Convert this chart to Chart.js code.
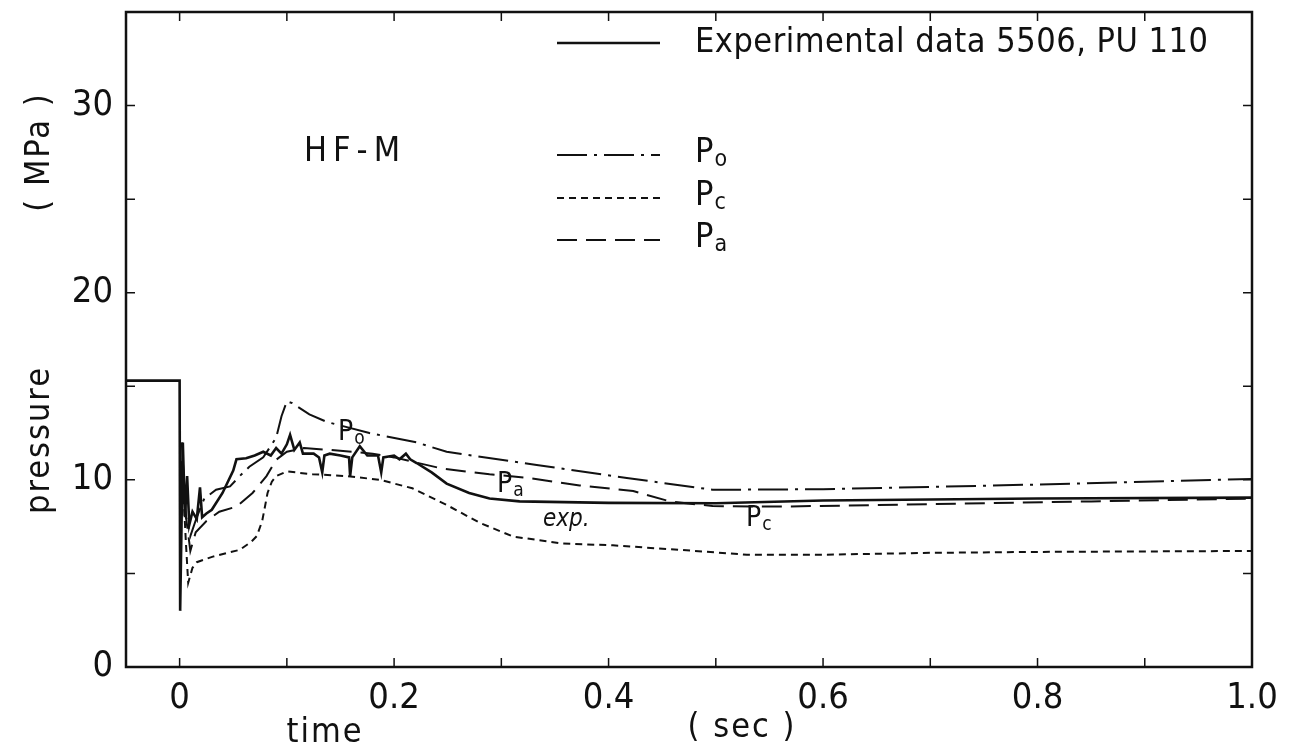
<!DOCTYPE html>
<html>
<head>
<meta charset="utf-8">
<script src="https://cdn.jsdelivr.net/npm/chart.js@4.4.0/dist/chart.umd.min.js"></script>
<style>
  html, body { margin: 0; padding: 0; background: #fff; }
  #wrap { width: 1297px; height: 751px; }
</style>
</head>
<body>
<div id="wrap"><canvas id="chart" width="1297" height="751"></canvas></div>
<script>
// axis ticks
const xTicks = [0, 0.1, 0.2, 0.3, 0.4, 0.5, 0.6, 0.7, 0.8, 0.9, 1.0];
const xTickLabels = ['0', '', '0.2', '', '0.4', '', '0.6', '', '0.8', '', '1.0'];
const yTicks = [0, 5, 10, 15, 20, 25, 30];
const yTickLabels = ['0', '', '10', '', '20', '', '30'];

// experimental data 5506, PU 110 (solid)
const expT = [-0.05, 0, 0.0005, 0.003, 0.005, 0.007, 0.009, 0.012, 0.016, 0.019, 0.021, 0.025, 0.03, 0.04, 0.05, 0.053,
  0.062, 0.07, 0.078, 0.085, 0.09, 0.095, 0.1, 0.103, 0.107, 0.112, 0.115, 0.125, 0.13, 0.133, 0.135, 0.14, 0.15,
  0.158, 0.159, 0.161, 0.168, 0.175, 0.185, 0.188, 0.19, 0.2, 0.205, 0.211, 0.215, 0.221, 0.235, 0.249, 0.27, 0.289,
  0.317, 0.4, 0.5, 0.6, 0.8, 1.0];
const expP = [15.3, 15.3, 3.0, 12.0, 8.0, 10.2, 7.6, 8.3, 7.9, 9.6, 8.0, 8.2, 8.4, 9.3, 10.5, 11.1,
  11.15, 11.3, 11.5, 11.3, 11.7, 11.4, 11.9, 12.4, 11.6, 12.0, 11.4, 11.4, 11.2, 10.4, 11.3, 11.4, 11.3,
  11.2, 10.2, 11.2, 11.8, 11.3, 11.3, 10.4, 11.2, 11.3, 11.1, 11.4, 11.1, 10.9, 10.4, 9.8, 9.3, 9.0,
  8.85, 8.77, 8.75, 8.9, 9.0, 9.05];

// Po (dash-dot)
const poT = [0.002, 0.006, 0.01, 0.016, 0.023, 0.034, 0.047, 0.056, 0.065, 0.078, 0.09, 0.095, 0.1, 0.105, 0.121,
  0.137, 0.177, 0.221, 0.249, 0.333, 0.417, 0.497, 0.6, 0.8, 1.0];
const poP = [12.0, 8.0, 7.0, 8.0, 9.0, 9.47, 9.65, 10.2, 10.7, 11.2, 12.25, 13.4, 14.2, 14.1, 13.5,
  13.1, 12.5, 12.0, 11.5, 10.8, 10.1, 9.47, 9.5, 9.75, 10.05];

// Pc (short dash)
const pcT = [0.002, 0.006, 0.008, 0.012, 0.016, 0.031, 0.056, 0.067, 0.072, 0.077, 0.079, 0.082, 0.086, 0.09, 0.1,
  0.124, 0.156, 0.187, 0.217, 0.249, 0.28, 0.311, 0.357, 0.404, 0.466, 0.529, 0.6, 0.7, 0.8, 1.0];
const pcP = [11.0, 6.5, 4.5, 5.3, 5.6, 5.9, 6.26, 6.7, 7.0, 7.8, 8.4, 9.3, 9.9, 10.2, 10.45,
  10.3, 10.2, 10.0, 9.55, 8.66, 7.7, 6.97, 6.6, 6.5, 6.26, 6.0, 6.0, 6.1, 6.15, 6.2];

// Pa (long dash)
const paT = [0.002, 0.006, 0.01, 0.015, 0.025, 0.037, 0.053, 0.068, 0.081, 0.09, 0.1, 0.116, 0.14, 0.18, 0.2,
  0.245, 0.289, 0.326, 0.373, 0.423, 0.457, 0.497, 0.56, 0.7, 0.85, 1.0];
const paP = [10.0, 8.0, 6.2, 7.2, 7.8, 8.3, 8.57, 9.3, 10.2, 11.07, 11.5, 11.7, 11.6, 11.4, 11.2,
  10.6, 10.3, 10.1, 9.7, 9.4, 8.85, 8.6, 8.57, 8.7, 8.85, 9.0];

const FONT = "'Liberation Sans Narrow', 'DejaVu Sans Condensed', sans-serif";
const INK = '#111';

function pts(t, p) { return t.map((v, i) => ({ x: v, y: p[i] })); }

const datasets = [
  { label: 'Experimental data 5506, PU 110', sub: '', data: pts(expT, expP), borderWidth: 2.6, borderDash: [] },
  { label: 'P', sub: 'o', data: pts(poT, poP), borderWidth: 2, borderDash: [30, 7, 3, 7] },
  { label: 'P', sub: 'c', data: pts(pcT, pcP), borderWidth: 2, borderDash: [7, 5] },
  { label: 'P', sub: 'a', data: pts(paT, paP), borderWidth: 2, borderDash: [20, 9] }
].map(d => Object.assign(d, { borderColor: INK, pointRadius: 0, tension: 0, fill: false }));

function subText(ctx, x, y, main, sub, size) {
  ctx.font = size + 'px ' + FONT;
  ctx.fillText(main, x, y);
  const w = ctx.measureText(main).width;
  ctx.font = Math.round(size * 0.68) + 'px ' + FONT;
  ctx.fillText(sub, x + w + 1, y + size * 0.22);
}

const decor = {
  id: 'decor',
  afterDraw(chart) {
    const ctx = chart.ctx;
    const a = chart.chartArea;
    const xs = chart.scales.x, ys = chart.scales.y;
    ctx.save();
    ctx.strokeStyle = INK;
    ctx.fillStyle = INK;
    // frame
    ctx.lineWidth = 2.5;
    ctx.strokeRect(a.left, a.top, a.right - a.left, a.bottom - a.top);
    // inward tick marks on all four sides
    ctx.lineWidth = 1.5;
    xTicks.forEach(v => {
      const px = xs.getPixelForValue(v);
      ctx.beginPath();
      ctx.moveTo(px, a.bottom); ctx.lineTo(px, a.bottom - 9);
      ctx.moveTo(px, a.top); ctx.lineTo(px, a.top + 9);
      ctx.stroke();
    });
    yTicks.forEach(v => {
      const py = ys.getPixelForValue(v);
      ctx.beginPath();
      ctx.moveTo(a.left, py); ctx.lineTo(a.left + 9, py);
      ctx.moveTo(a.right, py); ctx.lineTo(a.right - 9, py);
      ctx.stroke();
    });

    // axis titles
    ctx.textBaseline = 'middle';
    ctx.textAlign = 'center';
    ctx.font = '34px ' + FONT;
    ctx.letterSpacing = '2px';
    ctx.fillText('time', 325, 733);
    ctx.fillText('( sec )', 742, 728);
    ctx.save();
    ctx.translate(40, 440);
    ctx.rotate(-Math.PI / 2);
    ctx.fillText('pressure', 0, 0);
    ctx.restore();
    ctx.save();
    ctx.translate(40, 152);
    ctx.rotate(-Math.PI / 2);
    ctx.fillText('( MPa )', 0, 0);
    ctx.restore();

    // case label
    ctx.textAlign = 'left';
    ctx.letterSpacing = '6px';
    ctx.font = '34px ' + FONT;
    ctx.fillText('HF-M', 304, 152);

    // legend
    const rows = [43, 155, 198, 240];
    chart.data.datasets.forEach((d, i) => {
      const y = rows[i];
      ctx.lineWidth = d.borderWidth;
      ctx.setLineDash(d.borderDash);
      ctx.beginPath();
      ctx.moveTo(557, y); ctx.lineTo(660, y);
      ctx.stroke();
      ctx.setLineDash([]);
      if (d.sub) {
        ctx.letterSpacing = '0px';
        subText(ctx, 695, y - 2, d.label, d.sub, 34);
      } else {
        ctx.letterSpacing = '0.5px';
        ctx.font = '34px ' + FONT;
        ctx.fillText(d.label, 695, y);
      }
    });

    // curve annotations
    ctx.letterSpacing = '0px';
    subText(ctx, 338, 433, 'P', 'o', 28);
    subText(ctx, 497, 485, 'P', 'a', 28);
    subText(ctx, 746, 519, 'P', 'c', 28);
    ctx.font = 'italic 24px ' + FONT;
    ctx.fillText('exp.', 543, 520);
    ctx.restore();
  }
};

new Chart(document.getElementById('chart'), {
  type: 'line',
  data: { datasets: datasets },
  options: {
    responsive: false,
    animation: false,
    layout: { padding: { top: 12, right: 45, left: 0, bottom: 0 } },
    plugins: { legend: { display: false }, tooltip: { enabled: false } },
    scales: {
      x: {
        type: 'linear',
        min: -0.05,
        max: 1.0,
        grid: { display: false },
        border: { display: false },
        afterBuildTicks: s => { s.ticks = xTicks.map(v => ({ value: v })); },
        afterFit: s => { s.height = 84; s.paddingLeft = 0; s.paddingRight = 0; },
        ticks: {
          autoSkip: false,
          maxRotation: 0,
          padding: 2,
          color: INK,
          font: { family: FONT, size: 36 },
          callback: (v) => xTickLabels[xTicks.findIndex(t => Math.abs(t - v) < 1e-6)] || ''
        }
      },
      y: {
        type: 'linear',
        min: 0,
        max: 35,
        grid: { display: false },
        border: { display: false },
        afterBuildTicks: s => { s.ticks = yTicks.map(v => ({ value: v })); },
        afterFit: s => { s.width = 126; s.paddingTop = 0; s.paddingBottom = 0; },
        ticks: {
          autoSkip: false,
          padding: 5,
          color: INK,
          font: { family: FONT, size: 36 },
          callback: (v) => yTickLabels[yTicks.indexOf(v)] || ''
        }
      }
    }
  },
  plugins: [decor]
});
</script>
</body>
</html>
